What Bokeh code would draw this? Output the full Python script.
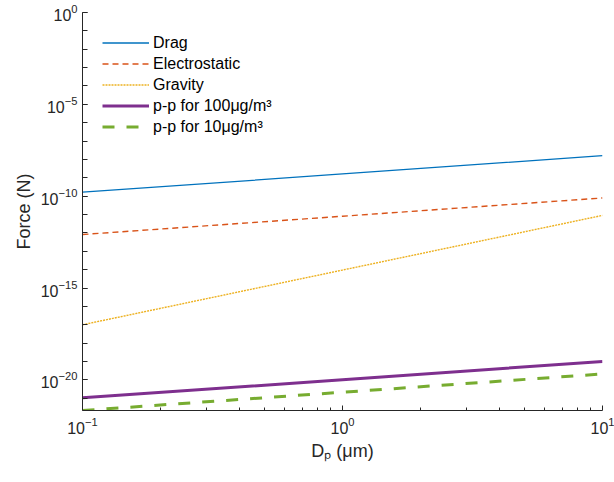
from bokeh.plotting import figure
from bokeh.models import Range1d, FixedTicker, Legend, LegendItem
from bokeh.embed import file_html
from bokeh.resources import INLINE

# Data (log-log straight lines)
dp = [0.1, 1.0, 10.0]
drag = [1.65e-10, 1.62e-9, 1.6e-8]
electro = [8.2e-13, 8.1e-12, 8.0e-11]
gravity = [1.0e-17, 9.5e-15, 9.0e-12]
pp100 = [1.05e-21, 1.02e-20, 1.0e-19]
pp10 = [2.15e-22, 2.12e-21, 2.1e-20]

labels = ["Drag", "Electrostatic", "Gravity",
          "p-p for 100\u03bcg/m\u00b3", "p-p for 10\u03bcg/m\u00b3"]

x_major = [0.1, 1, 10]
x_minor = [0.2, 0.3, 0.4, 0.5, 0.6, 0.7, 0.8, 0.9, 2, 3, 4, 5, 6, 7, 8, 9]
y_major = [1e-20, 1e-15, 1e-10, 1e-5, 1]
y_minor = [10.0 ** k for k in range(-21, 1)]

FONT = "Liberation Sans"
AX = "#262626"

p = figure(width=614, height=482, x_axis_type="log", y_axis_type="log",
           x_range=Range1d(0.1, 10), y_range=Range1d(2.15e-22, 1),
           output_backend="svg", toolbar_location=None,
           min_border_left=82, min_border_right=12,
           min_border_top=12, min_border_bottom=72)
p.outline_line_color = None
p.grid.visible = False
p.background_fill_color = "white"
p.border_fill_color = "white"

r1 = p.line(dp, drag, line_color="#0072BD", line_width=1.3)
r2 = p.line(dp, electro, line_color="#D95319", line_width=1.4, line_dash="6 4")
r3 = p.line(dp, gravity, line_color="#EDB120", line_width=1.4, line_dash="2 1")
r4 = p.line(dp, pp100, line_color="#7E2F8E", line_width=3)
r5 = p.line(dp, pp10, line_color="#77AC30", line_width=3, line_dash="12 12")

p.xaxis.ticker = FixedTicker(ticks=x_major, minor_ticks=x_minor)
p.yaxis.ticker = FixedTicker(ticks=y_major, minor_ticks=y_minor)

for ax in (p.xaxis, p.yaxis):
    ax.axis_line_color = AX
    ax.major_tick_line_color = AX
    ax.minor_tick_line_color = AX
    ax.major_tick_out = 0
    ax.minor_tick_out = 0
    ax.major_label_text_font = FONT
    ax.major_label_text_font_size = "16px"
    ax.major_label_text_color = AX
    ax.axis_label_text_font = FONT
    ax.axis_label_text_font_size = "18px"
    ax.axis_label_text_font_style = "normal"
    ax.axis_label_text_color = AX

p.xaxis.major_tick_in = 5
p.xaxis.minor_tick_in = 3
p.yaxis.major_tick_in = 5
p.yaxis.minor_tick_in = 5
p.xaxis.major_label_standoff = 6
p.yaxis.major_label_standoff = 5
p.xaxis.axis_label = "D\u209a (\u03bcm)"
p.yaxis.axis_label = "Force (N)"
p.xaxis.axis_label_standoff = 4
p.yaxis.axis_label_standoff = 4

legend = Legend(items=[LegendItem(label=l, renderers=[r]) for l, r in
                       zip(labels, [r1, r2, r3, r4, r5])],
                location="top_left", border_line_color=None,
                background_fill_alpha=0, margin=20, padding=0,
                glyph_width=47, glyph_height=21, label_height=21,
                label_standoff=4, spacing=0,
                label_text_font=FONT, label_text_font_size="16px",
                label_text_color="black")
p.add_layout(legend)

open("out.html", "w").write(file_html(p, INLINE))
